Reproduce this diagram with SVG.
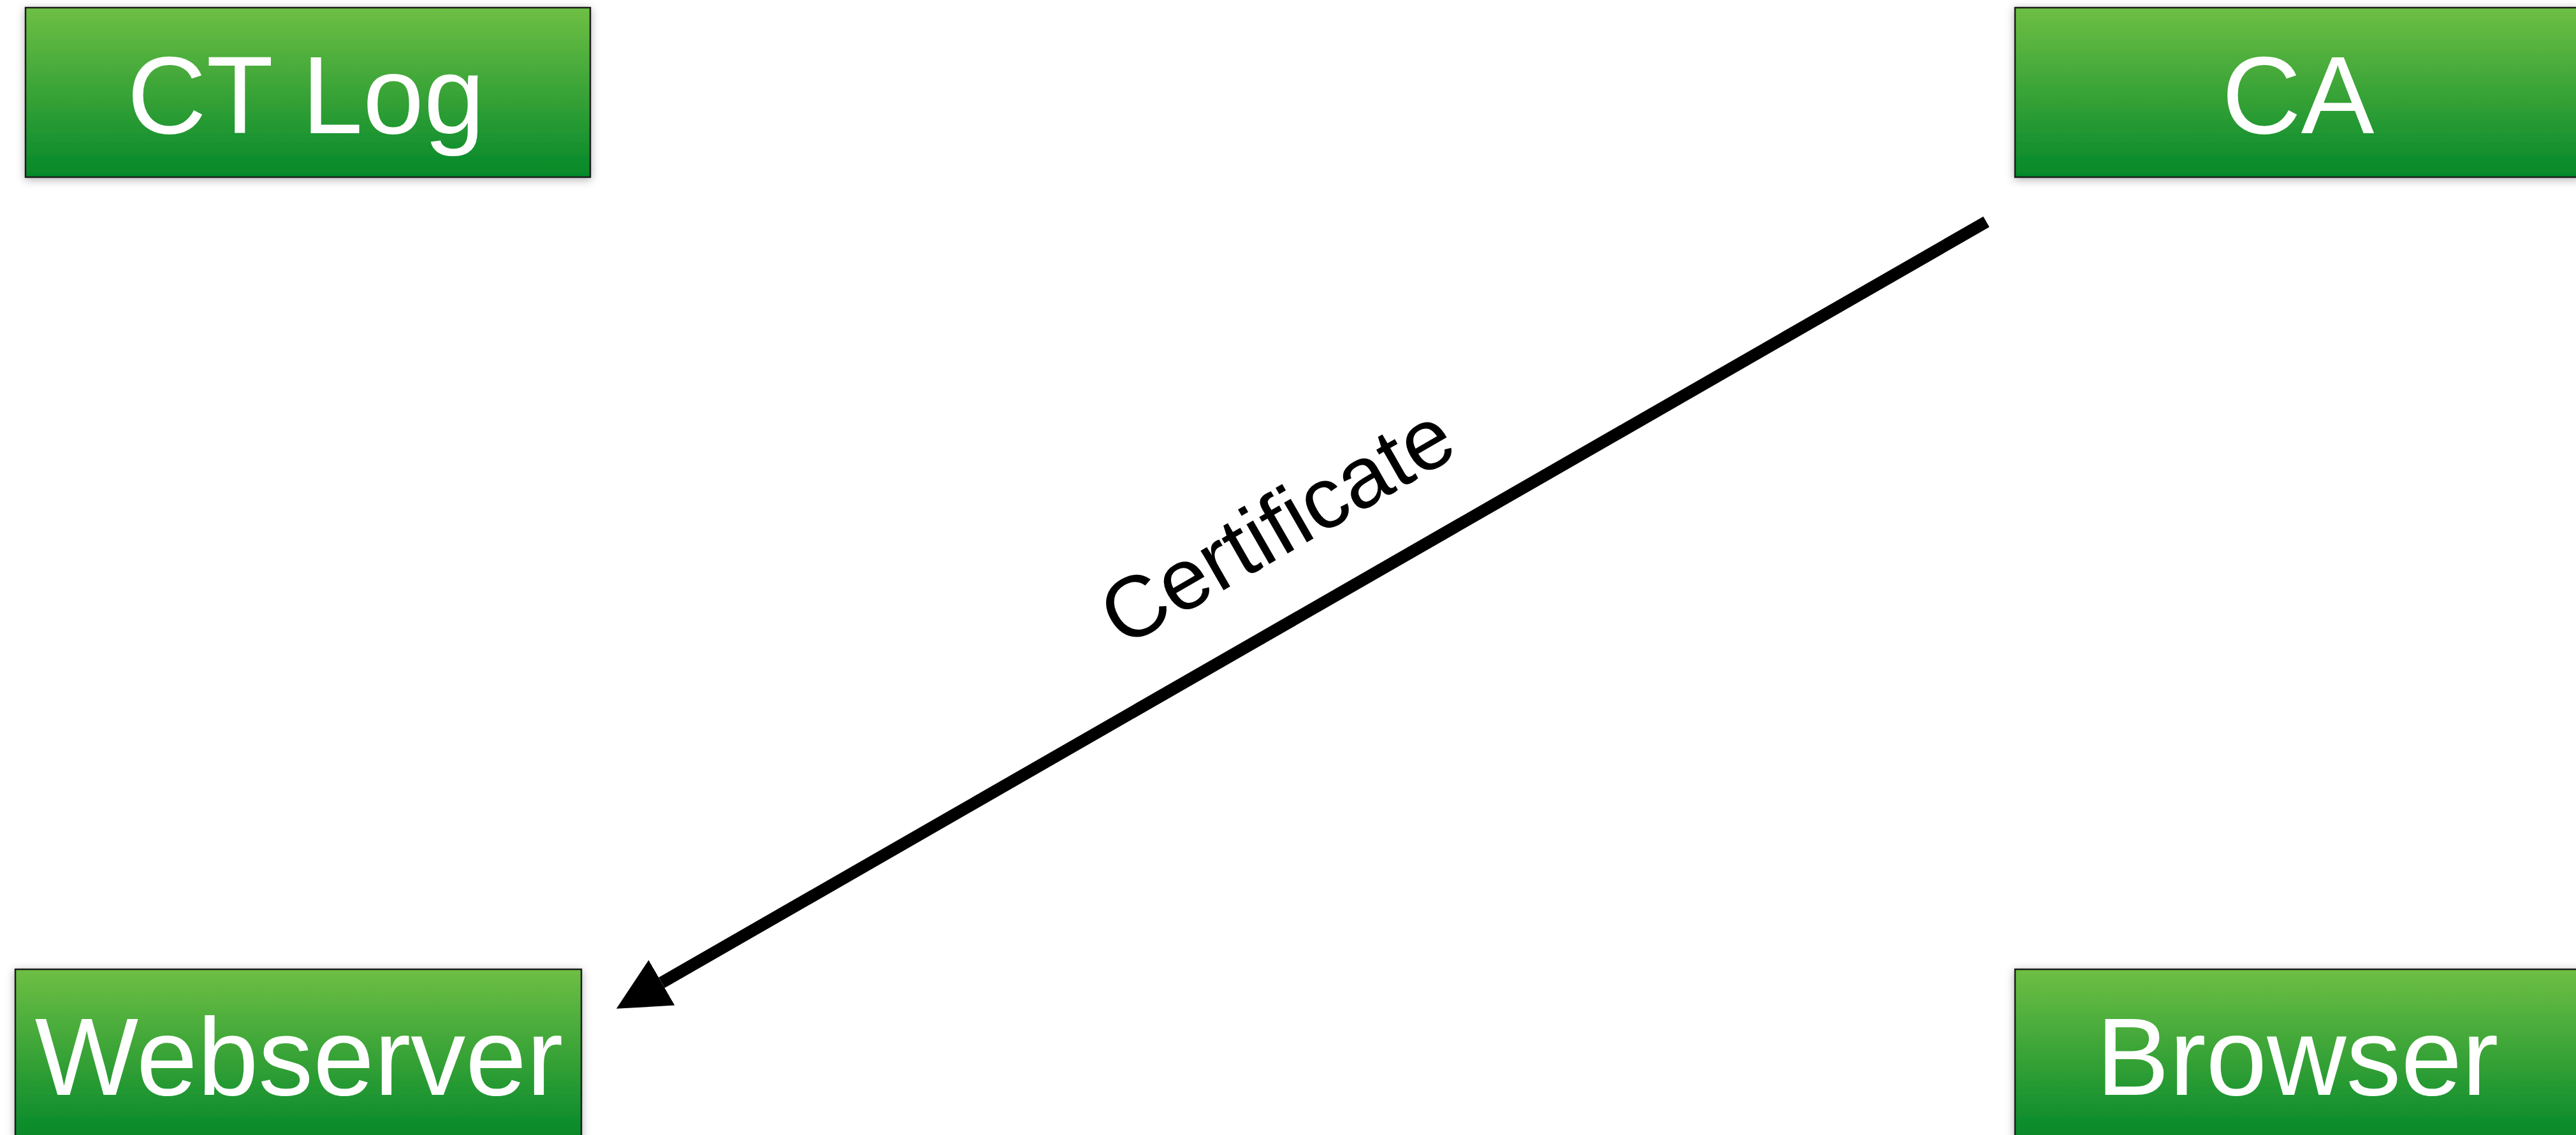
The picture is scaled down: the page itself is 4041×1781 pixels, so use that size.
<svg xmlns="http://www.w3.org/2000/svg" width="4041" height="1781" viewBox="0 0 4041 1781">
<defs>
<linearGradient id="g" x1="0" y1="0" x2="0" y2="1">
<stop offset="0" stop-color="#6ebf44"/>
<stop offset="1" stop-color="#04882a"/>
</linearGradient>
<filter id="sh" x="-10%" y="-20%" width="120%" height="140%">
<feDropShadow dx="0" dy="3" stdDeviation="7" flood-color="#000" flood-opacity="0.3"/>
</filter>
<marker id="ah" markerUnits="userSpaceOnUse" markerWidth="84" markerHeight="84" refX="0" refY="41" orient="auto" viewBox="0 0 84 84">
<path d="M0,0 L82,41 L0,82 z" fill="#000"/>
</marker>
<style>
.box{fill:url(#g);stroke:#1a1a1a;stroke-width:2.5;filter:url(#sh)}
.lbl{font-family:"Liberation Sans",Arial,sans-serif;font-size:172px;fill:#fff;text-anchor:middle}
.edge{font-family:"Liberation Sans",Arial,sans-serif;font-size:136px;fill:#000;text-anchor:middle}
</style>
</defs>
<rect width="4041" height="1781" fill="#fff"/>
<g id="ctlog">
<rect class="box" x="40" y="12" width="886" height="266"/>
<text class="lbl" x="480" y="209">CT Log</text>
</g>
<g id="ca">
<rect class="box" x="3161" y="12" width="886" height="266"/>
<text class="lbl" x="3605" y="209">CA</text>
</g>
<g id="webserver">
<rect class="box" x="24" y="1521" width="888" height="266"/>
<text class="lbl" x="469" y="1718">Webserver</text>
</g>
<g id="browser">
<rect class="box" x="3161" y="1521" width="886" height="266"/>
<text class="lbl" x="3604" y="1718">Browser</text>
</g>
<g id="connectors">
<line x1="3116" y1="348" x2="1038" y2="1542" stroke="#000" stroke-width="19" marker-end="url(#ah)"/>
<text class="edge" x="2026" y="865" transform="rotate(-29.9 2026 865)">Certificate</text>
</g>
</svg>
